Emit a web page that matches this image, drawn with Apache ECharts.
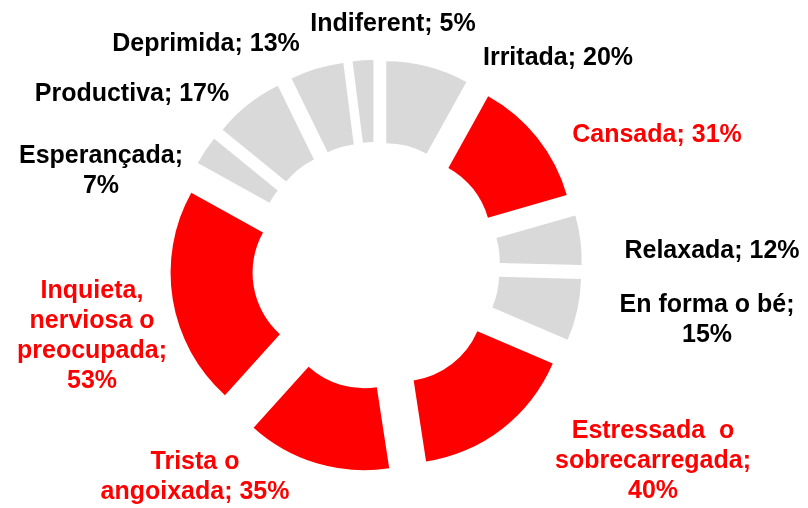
<!DOCTYPE html>
<html>
<head>
<meta charset="utf-8">
<script src="https://cdn.jsdelivr.net/npm/echarts@6/dist/echarts.min.js"></script>
<style>
  html, body { margin: 0; padding: 0; background: #fff; }
  #chart { width: 808px; height: 508px; }
</style>
</head>
<body>
<div id="chart"></div>
<script>
// categories, clockwise from 12 o'clock
const categories = [
  "Irritada", "Cansada", "Relaxada", "En forma o bé",
  "Estressada o sobrecarregada", "Trista o angoixada",
  "Inquieta, nerviosa o preocupada", "Esperançada",
  "Productiva", "Deprimida", "Indiferent"
];
// percentages
const values = [20, 31, 12, 15, 40, 35, 53, 7, 17, 13, 5];
// highlighted (red) categories
const highlighted = [false, true, false, false, true, true, true, false, false, false, false];

// label text as wrapped in the picture
const labelNames = [
  "Irritada", "Cansada", "Relaxada", "En forma o bé",
  "Estressada  o\nsobrecarregada", "Trista o\nangoixada",
  "Inquieta,\nnerviosa o\npreocupada", "Esperançada",
  "Productiva", "Deprimida", "Indiferent"
];
const breakBeforeValue = [false, false, false, true, true, false, true, true, false, false, false];

// label block centres (px)
const labelPos = [
  [558, 58], [657, 135], [712, 251], [707, 320], [653, 461], [195, 477],
  [92, 336], [101, 171], [132, 94], [206, 44], [393, 24]
];

const RED = "#ff0000";
const GREY = "#d9d9d9";
const CENTER = [376, 266];

const chart = echarts.init(document.getElementById("chart"));
chart.setOption({
  animation: false,
  backgroundColor: "#fff",
  series: [
    {
      // exploded ring
      type: "pie",
      center: CENTER,
      radius: [83, 165],
      startAngle: 90,
      clockwise: true,
      selectedMode: "multiple",
      selectedOffset: 41,
      label: { show: false },
      labelLine: { show: false },
      emphasis: { disabled: true },
      select: { itemStyle: { borderWidth: 0 } },
      data: categories.map((name, i) => {
        const color = highlighted[i] ? RED : GREY;
        return {
          name: name,
          value: values[i],
          selected: true,
          itemStyle: { color: color },
          select: { itemStyle: { color: color, borderWidth: 0 } },
        };
      }),
    },
    {
      // labels only
      type: "pie",
      center: CENTER,
      radius: [83, 165],
      startAngle: 90,
      clockwise: true,
      silent: true,
      avoidLabelOverlap: false,
      itemStyle: { color: "rgba(0,0,0,0)" },
      label: {
        show: true,
        fontFamily: "Liberation Sans, Arial, sans-serif",
        fontWeight: "bold",
        fontSize: 25,
        lineHeight: 30,
        align: "center",
        formatter: (p) =>
          labelNames[p.dataIndex] + ";" + (breakBeforeValue[p.dataIndex] ? "\n" : " ") + p.value + "%",
      },
      labelLine: { show: false },
      labelLayout: (p) => ({
        x: labelPos[p.dataIndex][0],
        y: labelPos[p.dataIndex][1],
        align: "center",
        verticalAlign: "middle",
      }),
      emphasis: { disabled: true },
      data: categories.map((name, i) => ({
        name: name,
        value: values[i],
        label: { color: highlighted[i] ? RED : "#000" },
      })),
    },
  ],
});
</script>
</body>
</html>
